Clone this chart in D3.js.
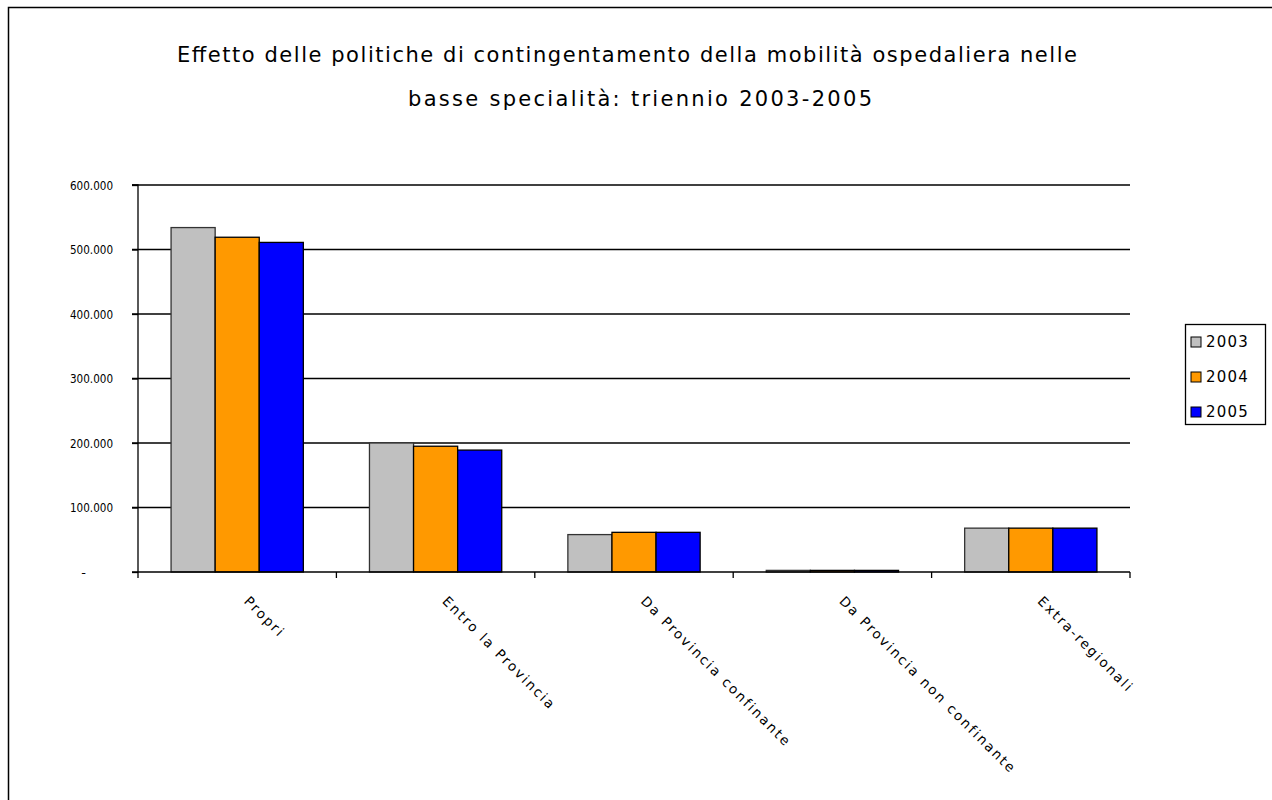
<!DOCTYPE html>
<html>
<head>
<meta charset="utf-8">
<script src="https://cdn.jsdelivr.net/npm/d3@7"></script>
<style>
  html, body { margin: 0; padding: 0; background: #fff; }
  svg { display: block; font-family: "DejaVu Sans", sans-serif; }
</style>
</head>
<body>
<svg id="chart" width="1272" height="800"></svg>
<script>
// Categories of hospital admissions by origin
const categories = ["Propri", "Entro la Provincia", "Da Provincia confinante", "Da Provincia non confinante", "Extra-regionali"];
const years = ["2003", "2004", "2005"];
const values2003 = [534000, 200000, 58000, 2500, 68000];
const values2004 = [519000, 195000, 61500, 2500, 68000];
const values2005 = [511000, 189000, 61500, 2500, 68000];
const yTicks = [0, 100000, 200000, 300000, 400000, 500000, 600000];
const yTickLabels = ["-", "100.000", "200.000", "300.000", "400.000", "500.000", "600.000"];
const titleLines = [
  "Effetto delle politiche di contingentamento della mobilità ospedaliera nelle",
  "basse specialità: triennio 2003-2005"
];
const colors = ["#c0c0c0", "#ff9900", "#0000ff"];

const series = [values2003, values2004, values2005];

const svg = d3.select("#chart");

// outer frame of the chart area
svg.append("rect")
  .attr("x", 8.5).attr("y", 7.5)
  .attr("width", 1300).attr("height", 900)
  .attr("fill", "#fff").attr("stroke", "#000").attr("stroke-width", 1.5);

// title
const titleY = [62, 106];
const titleW = [900, 464];
const titleX = [627, 640];
svg.selectAll("text.title").data(titleLines).join("text")
  .attr("class", "title")
  .attr("x", (d, i) => titleX[i])
  .attr("y", (d, i) => titleY[i])
  .attr("text-anchor", "middle")
  .attr("font-size", 21)
  .attr("textLength", (d, i) => titleW[i])
  .attr("lengthAdjust", "spacing")
  .attr("fill", "#000")
  .text(d => d);

const plot = { left: 138, right: 1130, top: 185, bottom: 572 };

const x0 = d3.scaleBand().domain(categories).range([plot.left, plot.right]).paddingInner(0).paddingOuter(0);
const x1 = d3.scaleBand().domain(years).range([0, x0.bandwidth()]).paddingOuter(0.75).paddingInner(0);
const y = d3.scaleLinear().domain([0, 600000]).range([plot.bottom, plot.top]);

// horizontal gridlines
svg.append("g").selectAll("line").data(yTicks.filter(t => t > 0)).join("line")
  .attr("x1", plot.left - 6).attr("x2", plot.right)
  .attr("y1", d => y(d)).attr("y2", d => y(d))
  .attr("stroke", "#000").attr("stroke-width", 1.3);

// bars
const groups = svg.append("g").selectAll("g").data(categories).join("g")
  .attr("transform", d => `translate(${x0(d)},0)`);
groups.selectAll("rect")
  .data((c, ci) => years.map((yr, si) => ({ yr, si, v: series[si][ci] })))
  .join("rect")
  .attr("x", d => x1(d.yr))
  .attr("y", d => y(d.v))
  .attr("width", x1.bandwidth())
  .attr("height", d => y(0) - y(d.v))
  .attr("fill", d => colors[d.si])
  .attr("stroke", d => d.si === 0 ? "#333" : "#000")
  .attr("stroke-width", 1.3);

// y axis
const yAxis = d3.axisLeft(y).tickValues(yTicks).tickSize(6)
  .tickFormat((d, i) => yTickLabels[i]);
const gy = svg.append("g").attr("transform", `translate(${plot.left},0)`).call(yAxis);
gy.select(".domain").attr("stroke", "#000").attr("stroke-width", 1.3).attr("d", `M-6,${plot.top}H0V${plot.bottom}`);
gy.selectAll(".tick line").attr("stroke", "#000").attr("stroke-width", 1.3);
gy.selectAll(".tick text")
  .attr("x", -25)
  .attr("font-size", 13)
  .attr("font-family", "DejaVu Sans, sans-serif")
  .attr("fill", "#000");
gy.selectAll(".tick").filter(d => d !== 0).select("text")
  .attr("textLength", 43)
  .attr("lengthAdjust", "spacingAndGlyphs");
gy.selectAll(".tick").filter(d => d === 0).select("text").attr("x", -52);

// x axis with ticks between categories
const boundaries = categories.map(c => x0(c)).concat([plot.right]);
svg.append("line")
  .attr("x1", plot.left - 6).attr("x2", plot.right)
  .attr("y1", plot.bottom).attr("y2", plot.bottom)
  .attr("stroke", "#000").attr("stroke-width", 1.5);
svg.append("g").selectAll("line").data(boundaries).join("line")
  .attr("x1", d => d).attr("x2", d => d)
  .attr("y1", plot.bottom).attr("y2", plot.bottom + 6)
  .attr("stroke", "#000").attr("stroke-width", 1.3);

// rotated category labels
svg.append("g").selectAll("text").data(categories).join("text")
  .attr("transform", d => `translate(${x0(d) + x0.bandwidth() / 2 + 6},${plot.bottom + 30}) rotate(45)`)
  .attr("text-anchor", "start")
  .attr("font-size", 13.5)
  .attr("letter-spacing", 2)
  .attr("fill", "#000")
  .text(d => d);

// legend
const legend = svg.append("g").attr("transform", "translate(1185,324)");
legend.append("rect")
  .attr("x", 0.5).attr("y", 0.5).attr("width", 80).attr("height", 100)
  .attr("fill", "#fff").attr("stroke", "#000").attr("stroke-width", 1.3);
const items = legend.selectAll("g.item").data(years).join("g")
  .attr("class", "item")
  .attr("transform", (d, i) => `translate(6,${18 + i * 35})`);
items.append("rect")
  .attr("x", 0).attr("y", -5).attr("width", 10).attr("height", 10)
  .attr("fill", (d, i) => colors[i]).attr("stroke", "#000").attr("stroke-width", 1);
items.append("text")
  .attr("x", 15).attr("y", 0).attr("dy", "0.35em")
  .attr("font-size", 15)
  .attr("letter-spacing", 1.2)
  .attr("fill", "#000")
  .text(d => d);
</script>
</body>
</html>
